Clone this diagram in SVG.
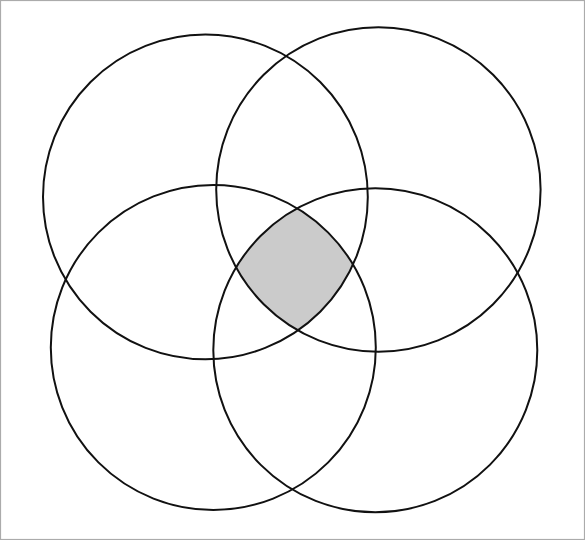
<svg xmlns="http://www.w3.org/2000/svg" width="585" height="540" viewBox="0 0 585 540">
  <style>
    .ring { fill: none; stroke: #111; stroke-width: 2; }
  </style>
  <defs>
    <clipPath id="cA"><circle cx="205.4" cy="196.9" r="162.4"/></clipPath>
    <clipPath id="cB"><circle cx="378.4" cy="189.5" r="162.2"/></clipPath>
    <clipPath id="cC"><circle cx="213.3" cy="347.5" r="162.5"/></clipPath>
  </defs>
  <rect x="0" y="0" width="585" height="540" fill="#fff"/>
  <rect x="0.5" y="0.5" width="584" height="539" fill="none" stroke="#ababab" stroke-width="1.2"/>
  <g id="overlap">
    <g clip-path="url(#cA)"><g clip-path="url(#cB)"><g clip-path="url(#cC)">
      <circle cx="375.3" cy="350.3" r="162" fill="#cbcbcb"/>
    </g></g></g>
  </g>
  <g id="circle-top-left"><circle class="ring" cx="205.4" cy="196.9" r="162.4"/></g>
  <g id="circle-top-right"><circle class="ring" cx="378.4" cy="189.5" r="162.2"/></g>
  <g id="circle-bottom-left"><circle class="ring" cx="213.3" cy="347.5" r="162.5"/></g>
  <g id="circle-bottom-right"><circle class="ring" cx="375.3" cy="350.3" r="162"/></g>
</svg>
